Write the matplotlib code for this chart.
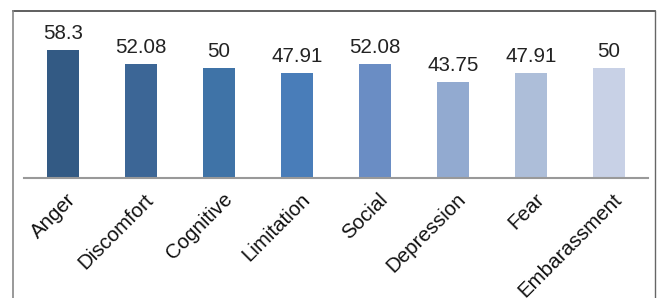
import matplotlib
matplotlib.use("Agg")
import matplotlib.pyplot as plt
import matplotlib.transforms as mtransforms
from matplotlib.lines import Line2D

categories = ["Anger", "Discomfort", "Cognitive", "Limitation", "Social",
              "Depression", "Fear", "Embarassment"]
values = [58.3, 52.08, 50, 47.91, 52.08, 43.75, 47.91, 50]
labels = ["58.3", "52.08", "50", "47.91", "52.08", "43.75", "47.91", "50"]
colors = ["#335A84", "#3C6696", "#3F73A7", "#497DB9", "#6A8DC4",
          "#92AAD0", "#ADBED9", "#C8D1E6"]

plt.rcParams['font.family'] = ['Liberation Sans', 'DejaVu Sans']

W, H = 661, 298
fig = plt.figure(figsize=(W/100, H/100), dpi=100)
ax = fig.add_axes([24/W, (H-177.7)/H, (648-24)/W, (177.7-24.4)/H])

x = list(range(len(categories)))
bars = ax.bar(x, values, width=0.41, color=colors)
ax.set_xlim(-0.5, len(categories)-0.5)
ax.set_ylim(0, 70)

for b, lab in zip(bars, labels):
    ax.annotate(lab, (b.get_x()+b.get_width()/2, b.get_height()),
                xytext=(0, 5), textcoords='offset points',
                ha='center', va='bottom', fontsize=14.8, color='#222222')

ax.set_xticks(x)
ax.set_xticklabels(categories, rotation=45, ha='right', va='center',
                   rotation_mode='anchor', fontsize=14.8, color='#111111')
ax.tick_params(axis='x', length=0, pad=10)
shift = mtransforms.ScaledTranslation(10/100, -5/100, fig.dpi_scale_trans)
for t in ax.get_xticklabels():
    t.set_transform(t.get_transform() + shift)
ax.set_yticks([])
for s in ['top', 'right', 'left']:
    ax.spines[s].set_visible(False)
ax.spines['bottom'].set_color('#999999')
ax.spines['bottom'].set_linewidth(1.5)

# figure border
def fx(px):
    return px / W
def fy(py):
    return (H - py) / H
fig.add_artist(Line2D([fx(12.5), fx(655)], [fy(10.5), fy(10.5)], color='#444444', lw=1.2))
fig.add_artist(Line2D([fx(12.5), fx(12.5)], [fy(10.5), fy(300)], color='#888888', lw=1.2))
fig.add_artist(Line2D([fx(655), fx(655)], [fy(10.5), fy(300)], color='#666666', lw=1.0))

fig.savefig("out.png", dpi=100)
